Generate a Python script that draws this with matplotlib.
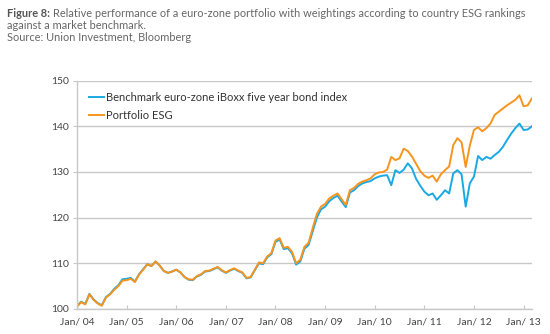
import numpy as np
import matplotlib
matplotlib.use('Agg')
import matplotlib.pyplot as plt

plt.rcParams['font.family'] = 'Lato'

# monthly readings, Jan 2004 .. Mar 2013
portfolio = [
    100.5, 101.5, 101.0, 103.2, 102.0, 101.2, 100.7, 102.5, 103.2, 104.2, 105.0, 106.2,  # 2004
    106.3, 106.6, 105.9, 107.5, 108.6, 109.8, 109.4, 110.4, 109.5, 108.3, 107.9, 108.2,  # 2005
    108.6, 108.0, 107.0, 106.5, 106.4, 107.2, 107.6, 108.3, 108.4, 108.8, 109.2, 108.5,  # 2006
    108.0, 108.5, 108.9, 108.4, 108.0, 106.8, 107.0, 108.6, 110.2, 110.0, 111.5, 112.2,  # 2007
    115.0, 115.5, 113.4, 113.6, 112.5, 110.0, 110.8, 113.6, 114.5, 117.7, 120.8, 122.4,  # 2008
    123.0, 124.2, 124.8, 125.3, 124.0, 122.8, 126.0, 126.5, 127.4, 127.9, 128.2, 128.6,  # 2009
    129.5, 129.9, 130.0, 130.5, 133.3, 132.6, 133.0, 135.1, 134.6, 133.4, 131.8, 130.2,  # 2010
    129.2, 128.7, 129.2, 127.9, 129.5, 130.4, 131.2, 135.9, 137.4, 136.5, 131.1, 135.8,  # 2011
    139.2, 139.8, 138.9, 139.6, 140.6, 142.5, 143.2, 143.9, 144.6, 145.2, 145.8, 146.8,  # 2012
    144.4, 144.6, 146.1,                                                                  # 2013
]
benchmark = [
    100.6, 101.6, 101.1, 103.3, 102.1, 101.3, 100.8, 102.6, 103.3, 104.4, 105.2, 106.5,  # 2004
    106.6, 106.8, 106.0, 107.6, 108.7, 109.8, 109.4, 110.4, 109.5, 108.3, 107.9, 108.2,  # 2005
    108.6, 108.0, 107.0, 106.4, 106.3, 107.1, 107.5, 108.2, 108.3, 108.7, 109.1, 108.4,  # 2006
    107.9, 108.4, 108.8, 108.3, 107.9, 106.7, 106.9, 108.5, 110.0, 109.8, 111.3, 112.0,  # 2007
    114.7, 115.2, 113.1, 113.3, 112.2, 109.7, 110.4, 113.2, 114.0, 117.0, 120.0, 121.8,  # 2008
    122.4, 123.6, 124.3, 124.8, 123.5, 122.3, 125.5, 126.0, 126.9, 127.5, 127.8, 128.0,  # 2009
    128.6, 129.0, 129.2, 129.3, 127.1, 130.4, 129.8, 130.5, 131.9, 130.8, 128.5, 127.0,  # 2010
    125.7, 124.9, 125.3, 123.9, 124.9, 126.0, 125.3, 129.7, 130.4, 129.5, 122.4, 127.5,  # 2011
    129.0, 133.5, 132.6, 133.3, 132.9, 133.7, 134.4, 135.5, 137.0, 138.4, 139.6, 140.6,  # 2012
    139.2, 139.3, 140.0,                                                                  # 2013
]
years = list(range(2004, 2014))
tick_labels = ['Jan/ %02d' % (y % 100) for y in years]

x = 2004 + np.arange(len(portfolio)) / 12.0

fig = plt.figure(figsize=(5.5, 3.34), dpi=100)
ax = fig.add_axes([0.14, 0.075, 0.827, 0.6835])

grid_c = '#c8c8c8'
ax.plot(x, benchmark, color='#1aa9e2', lw=1.4,
        label='Benchmark euro-zone iBoxx five year bond index')
ax.plot(x, portfolio, color='#f7941d', lw=1.4, label='Portfolio ESG')

ax.set_xlim(2004, x[-1])
ax.set_ylim(100, 150)
ax.set_yticks([100, 110, 120, 130, 140, 150])
ax.set_xticks(years)
ax.set_xticklabels(tick_labels)
ax.yaxis.grid(True, color=grid_c, lw=1)
ax.set_axisbelow(True)
for s in ['top', 'right']:
    ax.spines[s].set_visible(False)
for s in ['left', 'bottom']:
    ax.spines[s].set_color(grid_c)
    ax.spines[s].set_linewidth(1)
ax.tick_params(axis='x', direction='in', length=3, color=grid_c,
               labelsize=7.5, labelcolor='#444444', pad=6)
ax.tick_params(axis='y', direction='out', length=3, color=grid_c,
               labelsize=7.5, labelcolor='#444444', pad=3)

leg = ax.legend(loc='upper left', bbox_to_anchor=(0.01, 0.985), frameon=False,
                fontsize=8, handlelength=1.3, handletextpad=0.2,
                labelspacing=0.6, borderaxespad=0.3)
for t in leg.get_texts():
    t.set_color('#333333')

fs = 7.9
t1 = fig.text(0.013, 0.95, 'Figure 8:', fontsize=fs, fontweight='bold',
              color='#555555', va='baseline')
fig.canvas.draw()
bb = t1.get_window_extent().transformed(fig.transFigure.inverted())
fig.text(bb.x1 + 0.006, 0.95,
         'Relative performance of a euro-zone portfolio with weightings according to country ESG rankings',
         fontsize=fs, color='#666666', va='baseline')
fig.text(0.013, 0.912, 'against a market benchmark.', fontsize=fs,
         color='#666666', va='baseline')
fig.text(0.013, 0.876, 'Source: Union Investment, Bloomberg', fontsize=fs,
         color='#666666', va='baseline')

fig.savefig('out.png', dpi=100)
